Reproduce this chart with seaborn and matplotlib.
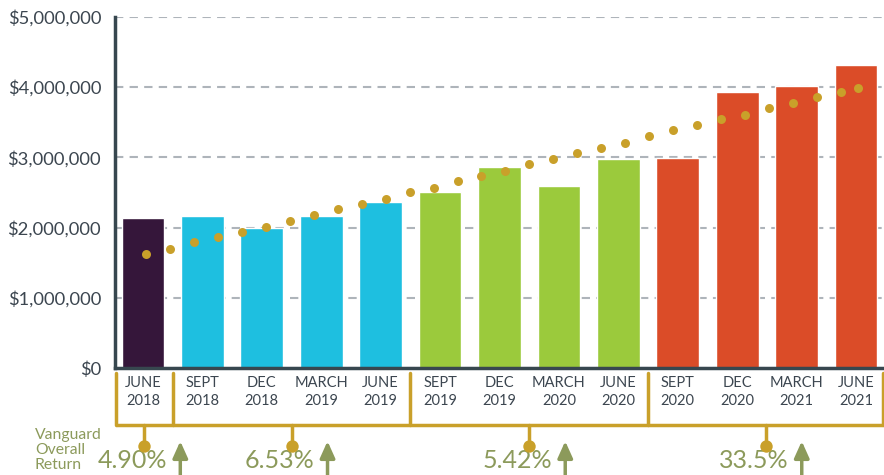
import matplotlib
matplotlib.use('Agg')
import matplotlib.pyplot as plt
from matplotlib.ticker import FuncFormatter
import pandas as pd
import seaborn as sns

# quarterly account balance
quarters = ['JUNE\n2018', 'SEPT\n2018', 'DEC\n2018', 'MARCH\n2019', 'JUNE\n2019',
            'SEPT\n2019', 'DEC\n2019', 'MARCH\n2020', 'JUNE\n2020',
            'SEPT\n2020', 'DEC\n2020', 'MARCH\n2021', 'JUNE\n2021']
balances = [2130000, 2170000, 1990000, 2170000, 2370000,
            2510000, 2860000, 2590000, 2970000,
            2990000, 3930000, 4010000, 4310000]
bar_colors = ['#35163A'] + ['#1EBFE0'] * 4 + ['#9BCA3C'] * 4 + ['#DB4C28'] * 4

# dotted trend
trend_x = [0.05, 0.45, 0.86, 1.26, 1.67, 2.07, 2.47, 2.88, 3.28, 3.69, 4.09,
           4.49, 4.90, 5.30, 5.69, 6.09, 6.50, 6.90, 7.31, 7.71, 8.11, 8.52,
           8.92, 9.33, 9.73, 10.13, 10.54, 10.94, 11.35, 11.75, 12.04]
trend_y = [1630000, 1700000, 1790000, 1860000, 1940000, 2010000, 2100000,
           2180000, 2260000, 2340000, 2410000, 2500000, 2570000, 2660000,
           2740000, 2810000, 2900000, 2970000, 3060000, 3140000, 3210000,
           3300000, 3390000, 3460000, 3540000, 3610000, 3700000, 3770000,
           3860000, 3930000, 3990000]

# return per period (number of quarters in each bracket)
period_sizes = [1, 4, 4, 4]
period_returns = ['4.90%', '6.53%', '5.42%', '33.5%']

GOLD = '#C9A02A'
OLIVE = '#8C9A5B'
SLATE = '#37474F'
TEXT = '#3C4650'

sns.set_style('white')
plt.rcParams['font.family'] = ['Lato', 'DejaVu Sans']

fig = plt.figure(figsize=(8.84, 4.75), dpi=100)
ax = fig.add_axes([0.1301, 0.2253, 0.8699, 0.739])

df = pd.DataFrame({'quarter': quarters, 'balance': balances})
sns.barplot(data=df, x='quarter', y='balance', hue='quarter', palette=bar_colors,
            legend=False, width=0.72, saturation=1, ax=ax, zorder=2)
ax.scatter(trend_x, trend_y, s=42, color=GOLD, zorder=3, linewidths=0)

xmin, xmax = -0.47, 12.47
ax.set_xlim(xmin, xmax)
ax.set_ylim(0, 5000000)
ax.set_xlabel('')
ax.set_ylabel('')

ax.set_yticks(range(0, 5000001, 1000000))
ax.yaxis.set_major_formatter(FuncFormatter(lambda v, p: f'${v:,.0f}'))
ax.tick_params(axis='y', labelsize=13.2, labelcolor=TEXT, length=2, width=1,
               color=SLATE, pad=8)
ax.yaxis.grid(True, linestyle=(0, (4, 3)), color='#AEB4BA', linewidth=1.5)
ax.set_axisbelow(True)

ax.set_xticks(range(len(quarters)))
ax.set_xticklabels(quarters, linespacing=1.35)
ax.tick_params(axis='x', which='major', length=0, labelsize=10.5,
               labelcolor=TEXT, pad=6)
ax.set_xticks([i + 0.5 for i in range(len(quarters) - 1)], minor=True)
ax.tick_params(axis='x', which='minor', direction='in', length=6, width=2,
               color=SLATE)

for s in ['top', 'right']:
    ax.spines[s].set_visible(False)
for s in ['left', 'bottom']:
    ax.spines[s].set_color(SLATE)
    ax.spines[s].set_linewidth(2.5)

# brackets below the axis
y_top, y_bar, y_stem = -71000, -814000, -1114000
edges = [xmin + 0.015]
count = 0
for n in period_sizes:
    count += n
    edges.append(count - 0.5)
edges[-1] = xmax - 0.01

ax.plot([edges[0], edges[-1]], [y_bar, y_bar], color=GOLD, lw=2.5,
        clip_on=False, solid_capstyle='butt')
for e in edges:
    ax.plot([e, e], [y_top, y_bar], color=GOLD, lw=2.5, clip_on=False)

px = 1 / 59.4  # one pixel in x data units
for i, ret in enumerate(period_returns):
    mid = (edges[i] + edges[i + 1]) / 2
    ax.plot([mid, mid], [y_bar, y_stem], color=GOLD, lw=2.5, clip_on=False)
    ax.scatter([mid], [y_stem], s=80, color=GOLD, clip_on=False, zorder=4,
               linewidths=0)
    ax.text(mid + 23 * px, -1430000, ret, ha='right', va='baseline',
            fontsize=18, color=OLIVE, clip_on=False)
    ax.annotate('', xy=(mid + 36 * px, -1043000),
                xytext=(mid + 36 * px, -1650000), annotation_clip=False,
                arrowprops=dict(arrowstyle='-|>,head_length=1.0,head_width=0.45',
                                color=OLIVE, lw=2.5, shrinkA=0, shrinkB=0))

fig.text(35 / 884, 1 - 450 / 475, 'Vanguard\nOverall\nReturn', ha='left',
         va='center', fontsize=11.3, color=OLIVE, linespacing=1.05)

fig.savefig('out.png', dpi=100)
